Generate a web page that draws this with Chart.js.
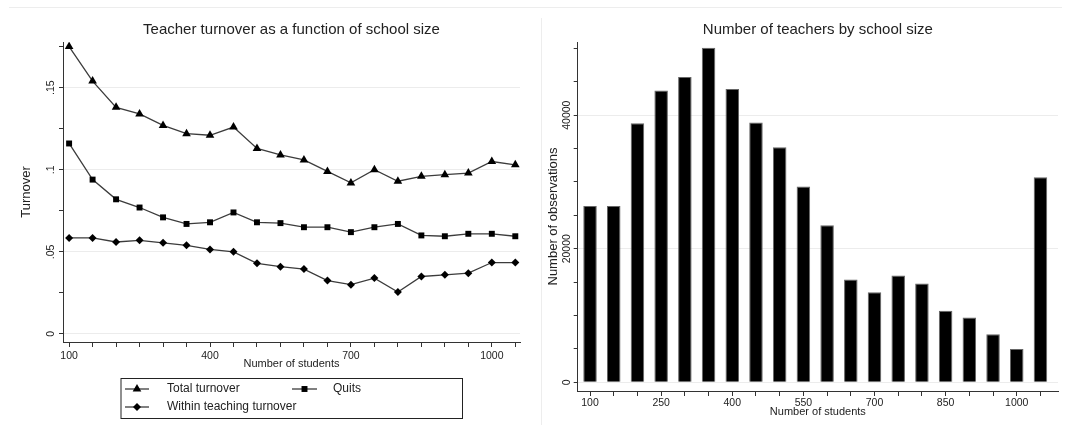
<!DOCTYPE html>
<html>
<head>
<meta charset="utf-8">
<script src="https://cdn.jsdelivr.net/npm/chart.js@4.4.1/dist/chart.umd.min.js"></script>
<style>
  html, body { margin: 0; padding: 0; background: #fff; }
  #wrap { position: relative; width: 1065px; height: 430px; overflow: hidden; background: #fff; }
  .rule { position: absolute; background: #ededed; }
  canvas.panel { position: absolute; top: 0; }
  #turnoverChart { left: 0; }
  #teachersChart { left: 540px; }
</style>
</head>
<body>
<div id="wrap">
  <div class="rule" style="left:9px;top:7px;width:1053px;height:1px"></div>
  <div class="rule" style="left:541px;top:18px;width:1px;height:407px"></div>
  <canvas id="turnoverChart" class="panel" width="540" height="430" style="width:540px;height:430px"></canvas>
  <canvas id="teachersChart" class="panel" width="525" height="430" style="width:525px;height:430px"></canvas>
</div>
<script>
// School size bins (number of students)
const schoolSize = [100, 150, 200, 250, 300, 350, 400, 450, 500, 550,
                    600, 650, 700, 750, 800, 850, 900, 950, 1000, 1050];

// Turnover rates by school size
const totalTurnover = [0.175, 0.154, 0.138, 0.134, 0.127, 0.122, 0.121, 0.126, 0.113, 0.109,
                       0.106, 0.099, 0.092, 0.100, 0.093, 0.096, 0.097, 0.098, 0.105, 0.103];
const quits = [0.116, 0.094, 0.082, 0.077, 0.071, 0.067, 0.068, 0.074, 0.068, 0.0675,
               0.065, 0.065, 0.062, 0.065, 0.067, 0.060, 0.0595, 0.061, 0.061, 0.0595];
const withinTeaching = [0.0585, 0.0585, 0.056, 0.057, 0.0555, 0.054, 0.0515, 0.050, 0.043, 0.041,
                        0.0395, 0.0325, 0.030, 0.034, 0.0255, 0.035, 0.036, 0.037, 0.0435, 0.0435];

// Number of teacher observations by school size
const teachers = [26400, 26400, 38800, 43700, 45700, 50100, 43900, 38900, 35200, 29300,
                  23500, 15400, 13500, 16000, 14800, 10700, 9700, 7200, 5000, 30700];

// Axis ticks and labels
const sizeTicks = schoolSize;
const turnoverSizeLabels = [100, 400, 700, 1000];
const teachersSizeLabels = [100, 250, 400, 550, 700, 850, 1000];
const turnoverTicks = [0, 0.025, 0.05, 0.075, 0.1, 0.125, 0.15, 0.175];
const turnoverMajor = [0, 0.05, 0.1, 0.15];
const turnoverMajorText = ['0', '.05', '.1', '.15'];
const teachersTicks = [0, 5000, 10000, 15000, 20000, 25000, 30000, 35000, 40000, 45000, 50000];
const teachersMajor = [0, 20000, 40000];

const FONT = '"Liberation Sans", Arial, sans-serif';
const TEXT = '#222';
const AXIS = '#333';
const GRID = '#ececec';

const near = (a, b) => Math.abs(a - b) < 1e-9;
const majorIndex = (list, v) => list.findIndex(m => near(m, v));

// Panel title centred over the plotting area
const panelTitle = {
  id: 'panelTitle',
  afterDraw(chart, args, opts) {
    const { ctx, chartArea } = chart;
    ctx.save();
    ctx.font = '15px ' + FONT;
    ctx.fillStyle = TEXT;
    ctx.textAlign = 'center';
    ctx.textBaseline = 'middle';
    ctx.fillText(opts.text, (chartArea.left + chartArea.right) / 2, opts.y);
    ctx.restore();
  }
};

function marker(ctx, style, radius, x, y) {
  ctx.fillStyle = '#000';
  if (Chart.helpers && Chart.helpers.drawPoint) {
    Chart.helpers.drawPoint(ctx, { pointStyle: style, radius: radius, rotation: 0, borderWidth: 0 }, x, y);
    return;
  }
  ctx.beginPath();
  if (style === 'triangle') {
    let a = 0;
    ctx.moveTo(x + Math.sin(a) * radius, y - Math.cos(a) * radius);
    a += 2 * Math.PI / 3;
    ctx.lineTo(x + Math.sin(a) * radius, y - Math.cos(a) * radius);
    a += 2 * Math.PI / 3;
    ctx.lineTo(x + Math.sin(a) * radius, y - Math.cos(a) * radius);
  } else if (style === 'rect') {
    const s = Math.SQRT1_2 * radius;
    ctx.rect(x - s, y - s, 2 * s, 2 * s);
  } else {
    ctx.moveTo(x - radius, y); ctx.lineTo(x, y - radius);
    ctx.lineTo(x + radius, y); ctx.lineTo(x, y + radius);
  }
  ctx.closePath();
  ctx.fill();
}

// Framed legend with line-and-marker keys
const boxLegend = {
  id: 'boxLegend',
  afterDraw(chart, args, opts) {
    const ctx = chart.ctx;
    const b = opts.box;
    ctx.save();
    ctx.strokeStyle = '#222';
    ctx.lineWidth = 1;
    ctx.strokeRect(b.x + 0.5, b.y + 0.5, b.w, b.h);
    ctx.font = '12px ' + FONT;
    ctx.textAlign = 'left';
    ctx.textBaseline = 'middle';
    opts.slots.forEach((s, i) => {
      const ds = chart.data.datasets[i];
      ctx.strokeStyle = ds.borderColor;
      ctx.lineWidth = ds.borderWidth;
      ctx.beginPath();
      ctx.moveTo(s.x, s.y);
      ctx.lineTo(s.x + s.len, s.y);
      ctx.stroke();
      marker(ctx, ds.pointStyle, ds.pointRadius, s.x + s.len / 2, s.y);
      ctx.fillStyle = TEXT;
      ctx.fillText(ds.label, s.tx, s.y);
    });
    ctx.restore();
  }
};

const toPoints = ys => schoolSize.map((x, i) => ({ x: x, y: ys[i] }));

const lineStyle = {
  borderColor: '#3c3c3c',
  borderWidth: 1.3,
  pointBackgroundColor: '#000',
  pointBorderColor: '#000',
  pointBorderWidth: 0,
  pointHoverRadius: 0,
  tension: 0,
  fill: false
};

new Chart(document.getElementById('turnoverChart'), {
  type: 'line',
  data: {
    datasets: [
      Object.assign({ label: 'Total turnover', data: toPoints(totalTurnover), pointStyle: 'triangle', pointRadius: 5 }, lineStyle),
      Object.assign({ label: 'Quits', data: toPoints(quits), pointStyle: 'rect', pointRadius: 4.2 }, lineStyle),
      Object.assign({ label: 'Within teaching turnover', data: toPoints(withinTeaching), pointStyle: 'rectRot', pointRadius: 4 }, lineStyle)
    ]
  },
  options: {
    responsive: false,
    animation: false,
    devicePixelRatio: 1,
    layout: { padding: { left: 0, right: 20, top: 42, bottom: 59.4 } },
    plugins: {
      legend: { display: false },
      tooltip: { enabled: false },
      panelTitle: { text: 'Teacher turnover as a function of school size', y: 30 },
      boxLegend: {
        box: { x: 120.5, y: 378, w: 341.5, h: 40 },
        slots: [
          { x: 125, y: 389, len: 24, tx: 167 },
          { x: 292, y: 389, len: 25, tx: 333 },
          { x: 125, y: 407, len: 24, tx: 167 }
        ]
      }
    },
    scales: {
      x: {
        type: 'linear',
        min: 87,
        max: 1060,
        afterFit(scale) { scale.height = 28.6; },
        afterBuildTicks(scale) { scale.ticks = sizeTicks.map(v => ({ value: v })); },
        border: { display: true, color: AXIS, width: 1 },
        grid: { drawOnChartArea: false, drawTicks: true, tickLength: 5, tickColor: AXIS, tickWidth: 1 },
        ticks: {
          autoSkip: false, maxRotation: 0, minRotation: 0, padding: 3,
          color: TEXT, font: { family: FONT, size: 10.5 },
          callback: v => turnoverSizeLabels.includes(v) ? String(v) : ''
        },
        title: { display: true, text: 'Number of students', color: TEXT, font: { family: FONT, size: 11 }, padding: { top: 0, bottom: 0 } }
      },
      y: {
        type: 'linear',
        min: -0.0049,
        max: 0.1778,
        afterFit(scale) { scale.width = 63; },
        afterBuildTicks(scale) { scale.ticks = turnoverTicks.map(v => ({ value: v })); },
        border: { display: true, color: AXIS, width: 1 },
        grid: {
          drawOnChartArea: true, drawTicks: true, tickLength: 4, tickColor: AXIS, tickWidth: 1,
          color: c => (c.tick && majorIndex(turnoverMajor, c.tick.value) >= 0) ? GRID : 'rgba(0,0,0,0)'
        },
        ticks: {
          autoSkip: false, minRotation: 90, maxRotation: 90, crossAlign: 'center', padding: 1,
          color: TEXT, font: { family: FONT, size: 10.5 },
          callback: v => { const i = majorIndex(turnoverMajor, v); return i >= 0 ? turnoverMajorText[i] : ''; }
        },
        title: { display: true, text: 'Turnover', color: TEXT, font: { family: FONT, size: 13 }, padding: { top: 19, bottom: 0 } }
      }
    }
  },
  plugins: [panelTitle, boxLegend]
});

new Chart(document.getElementById('teachersChart'), {
  type: 'bar',
  data: {
    datasets: [{
      label: 'Number of observations',
      data: toPoints(teachers),
      backgroundColor: '#000',
      borderColor: '#666',
      borderWidth: 1,
      barPercentage: 0.57,
      categoryPercentage: 1
    }]
  },
  options: {
    responsive: false,
    animation: false,
    devicePixelRatio: 1,
    layout: { padding: { left: 0, right: 7, top: 42, bottom: 11.7 } },
    plugins: {
      legend: { display: false },
      tooltip: { enabled: false },
      panelTitle: { text: 'Number of teachers by school size', y: 30 }
    },
    scales: {
      x: {
        type: 'linear',
        offset: false,
        min: 74,
        max: 1087,
        afterFit(scale) { scale.height = 27.3; },
        afterBuildTicks(scale) { scale.ticks = sizeTicks.map(v => ({ value: v })); },
        border: { display: true, color: AXIS, width: 1 },
        grid: { offset: false, drawOnChartArea: false, drawTicks: true, tickLength: 5, tickColor: AXIS, tickWidth: 1 },
        ticks: {
          autoSkip: false, maxRotation: 0, minRotation: 0, padding: 1,
          color: TEXT, font: { family: FONT, size: 10.5 },
          callback: v => teachersSizeLabels.includes(v) ? String(v) : ''
        },
        title: { display: true, text: 'Number of students', color: TEXT, font: { family: FONT, size: 11 }, padding: { top: 0, bottom: 0 } }
      },
      y: {
        type: 'linear',
        min: -1300,
        max: 50950,
        afterFit(scale) { scale.width = 37.7; },
        afterBuildTicks(scale) { scale.ticks = teachersTicks.map(v => ({ value: v })); },
        border: { display: true, color: AXIS, width: 1 },
        grid: {
          drawOnChartArea: true, drawTicks: true, tickLength: 4, tickColor: AXIS, tickWidth: 1,
          color: c => (c.tick && teachersMajor.includes(c.tick.value)) ? GRID : 'rgba(0,0,0,0)'
        },
        ticks: {
          autoSkip: false, minRotation: 90, maxRotation: 90, crossAlign: 'center', padding: -7.6,
          color: TEXT, font: { family: FONT, size: 10.5 },
          callback: v => teachersMajor.includes(v) ? String(v) : ''
        },
        title: { display: true, text: 'Number of observations', color: TEXT, font: { family: FONT, size: 13 }, padding: { top: 5.5, bottom: 0 } }
      }
    }
  },
  plugins: [panelTitle]
});
</script>
</body>
</html>
